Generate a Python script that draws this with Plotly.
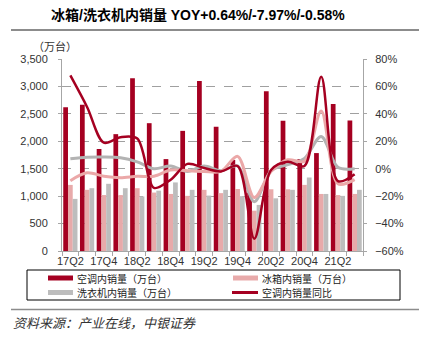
import plotly.graph_objects as go

quarters = ["17Q2", "17Q3", "17Q4", "18Q1", "18Q2", "18Q3", "18Q4", "19Q1", "19Q2",
            "19Q3", "19Q4", "20Q1", "20Q2", "20Q3", "20Q4", "21Q1", "21Q2", "21Q3"]
ac_sales = [2620, 2665, 1860, 2130, 3150, 2330, 1675, 2190, 3100,
            2265, 1660, 1065, 2910, 2375, 1675, 1785, 2680, 2380]
fridge_sales = [1205, 1115, 1020, 1020, 1145, 1065, 1040, 1005, 1115,
                1055, 1130, 735, 1125, 1125, 1205, 1040, 1020, 1040]
washer_sales = [950, 1145, 1225, 1145, 995, 1100, 1250, 1115, 1010,
                1115, 1000, 840, 960, 1115, 1340, 1040, 1005, 1115]
ac_yoy = [68, 45, 19, 23, 22, -14, -8, 3.5, 0.5, -2, 2, -51, -1, 5, 2, 67, -9, -4]
fridge_yoy = [-8.7, -3, -5.5, -6.5, -5.5, -5.5, -1, -1.5, -2, -2, 9, -21, -2, 6.5, 5.5, 42, -11, -8]
washer_yoy = [7.2, 8.4, 8.6, 8.0, 5, 0, 2, -2, 2, -1.4, 2, -24, -1.5, 3, 7.5, 23.5, 1, 0]

tick_text = [q if i % 2 == 0 else "" for i, q in enumerate(quarters)]
names = ["空调内销量（万台）", "冰箱内销量（万台）", "洗衣机内销量（万台）", "空调内销量同比"]

RED = "#A50021"
PINK = "#E8AAAA"
GRAY = "#BDBDBD"
AXC = "#A6A6A6"
FONT = "Liberation Sans, Noto Sans CJK SC, sans-serif"
CJK = "Noto Sans CJK SC, sans-serif"

W, H = 423, 345
L, R, T, B = 62, 60, 59, 94
PW, PH = W - L - R, H - T - B


def xp(px):
    return (px - L) / PW


def yp(py):
    return (H - B - py) / PH


fig = go.Figure()
fig.add_trace(go.Bar(x=quarters, y=ac_sales, name=names[0], marker_color=RED, marker_line_width=0))
fig.add_trace(go.Bar(x=quarters, y=fridge_sales, name=names[1], marker_color=PINK, marker_line_width=0))
fig.add_trace(go.Bar(x=quarters, y=washer_sales, name=names[2], marker_color=GRAY, marker_line_width=0))
fig.add_trace(go.Scatter(x=quarters, y=[v / 100 for v in washer_yoy], yaxis="y2", mode="lines",
                         line=dict(color="#B3B3B3", width=3, shape="spline", smoothing=0.9), showlegend=False))
fig.add_trace(go.Scatter(x=quarters, y=[v / 100 for v in fridge_yoy], yaxis="y2", mode="lines",
                         line=dict(color="#EBA8A8", width=3, shape="spline", smoothing=0.9), showlegend=False))
fig.add_trace(go.Scatter(x=quarters, y=[v / 100 for v in ac_yoy], yaxis="y2", mode="lines", name=names[3],
                         line=dict(color=RED, width=2.5, shape="spline", smoothing=0.9)))

row1, row2 = 278, 292.5
shapes = [
    dict(type="line", xref="paper", yref="paper", x0=xp(11), x1=xp(419), y0=yp(30), y1=yp(30),
         line=dict(color="#8C8C8C", width=2)),
    dict(type="line", xref="paper", yref="paper", x0=xp(11), x1=xp(419), y0=yp(309.5), y1=yp(309.5),
         line=dict(color="#8C8C8C", width=1.5)),
    dict(type="rect", xref="paper", yref="paper", x0=xp(27), x1=xp(400), y0=yp(270), y1=yp(300),
         line=dict(color="#000000", width=1), fillcolor="rgba(0,0,0,0)"),
    dict(type="rect", xref="paper", yref="paper", x0=xp(48), x1=xp(73), y0=yp(row1 - 2.5), y1=yp(row1 + 2.5),
         line=dict(width=0), fillcolor=RED),
    dict(type="rect", xref="paper", yref="paper", x0=xp(233), x1=xp(258), y0=yp(row1 - 2.5), y1=yp(row1 + 2.5),
         line=dict(width=0), fillcolor=PINK),
    dict(type="rect", xref="paper", yref="paper", x0=xp(48), x1=xp(73), y0=yp(row2 - 2.5), y1=yp(row2 + 2.5),
         line=dict(width=0), fillcolor=GRAY),
    dict(type="line", xref="paper", yref="paper", x0=xp(232), x1=xp(258), y0=yp(row2), y1=yp(row2),
         line=dict(color=RED, width=3)),
]

annotations = [
    dict(text="<b>冰箱/洗衣机内销量 YOY+0.64%/-7.97%/-0.58%</b>", x=xp(198), y=yp(15),
         xanchor="center", yanchor="middle", font=dict(family=FONT, size=14, color="#000000")),
    dict(text="（万台）", x=xp(55), y=yp(46), xanchor="center", yanchor="middle",
         font=dict(family=CJK, size=11, color="#333333")),
    dict(text=names[0], x=xp(76), y=yp(row1), xanchor="left", yanchor="middle",
         font=dict(family=CJK, size=10, color="#222222")),
    dict(text=names[1], x=xp(261), y=yp(row1), xanchor="left", yanchor="middle",
         font=dict(family=CJK, size=10, color="#222222")),
    dict(text=names[2], x=xp(76), y=yp(row2), xanchor="left", yanchor="middle",
         font=dict(family=CJK, size=10, color="#222222")),
    dict(text=names[3], x=xp(261), y=yp(row2), xanchor="left", yanchor="middle",
         font=dict(family=CJK, size=10, color="#222222")),
    dict(text="<i>资料来源：产业在线，中银证券</i>", x=xp(12), y=yp(322), xanchor="left", yanchor="middle",
         font=dict(family=CJK, size=13, color="#333333")),
]
for a in annotations:
    a.update(xref="paper", yref="paper", showarrow=False, borderpad=0)

fig.update_layout(
    width=W, height=H,
    margin=dict(l=L, r=R, t=T, b=B, pad=0),
    paper_bgcolor="white", plot_bgcolor="white",
    barmode="group", bargap=0.15, bargroupgap=0,
    showlegend=False,
    font=dict(family=FONT, size=11, color="#333333"),
    xaxis=dict(type="category", tickmode="array", tickvals=quarters, ticktext=tick_text,
               tickson="boundaries", ticks="outside", ticklen=4, tickcolor=AXC, tickangle=0,
               showline=True, linecolor=AXC, linewidth=1, showgrid=False,
               range=[-0.5, len(quarters) - 0.5], tickfont=dict(size=11, color="#333333")),
    yaxis=dict(range=[0, 3500], dtick=500, tickformat=",", showgrid=True, griddash="dash",
               gridcolor="#A0A0A0", gridwidth=1, showline=True, linecolor=AXC, ticks="outside",
               ticklen=3, tickcolor=AXC, zeroline=False, ticklabelstandoff=8,
               tickfont=dict(size=11, color="#333333")),
    yaxis2=dict(range=[-0.6, 0.8], dtick=0.2, tickformat=".0%", overlaying="y", side="right",
                showgrid=False, showline=True, linecolor=AXC, ticks="outside", ticklen=3,
                tickcolor=AXC, zeroline=False, ticklabelstandoff=6,
                tickfont=dict(size=11, color="#333333")),
    shapes=shapes,
    annotations=annotations,
)

fig.write_html("out.html")
